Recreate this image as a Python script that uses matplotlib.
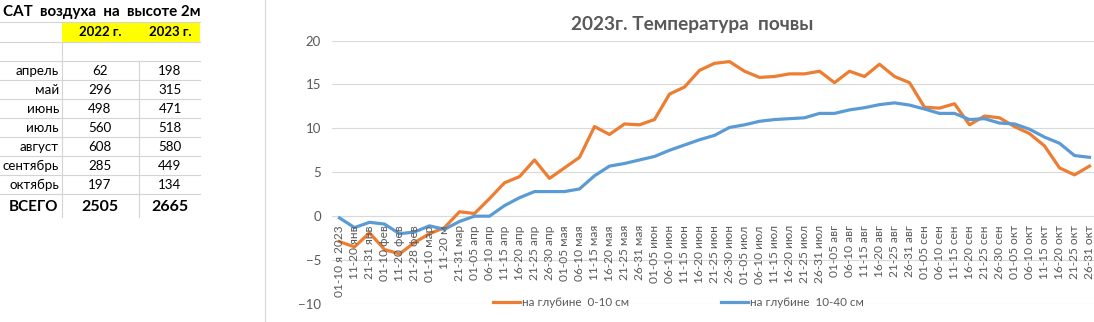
import matplotlib.pyplot as plt
from matplotlib.lines import Line2D
from matplotlib.patches import Rectangle

plt.rcParams['font.family'] = ['Lato', 'DejaVu Sans']

# table on the left
months = ['апрель', 'май', 'июнь', 'июль', 'август', 'сентябрь', 'октябрь']
sat_2022 = [62, 296, 498, 560, 608, 285, 197]
sat_2023 = [198, 315, 471, 518, 580, 449, 134]
total_2022 = 2505
total_2023 = 2665

# chart data
periods = ['01-10 я 2023', '11-20 янв', '21-31 янв', '01-10 фев', '11-20 фев', '21-28 фев',
           '01-10 мар', '11-20 м', '21-31 мар',
           '01-05 апр', '06-10 апр', '11-15 апр', '16-20 апр', '21-25 апр', '26-30 апр',
           '01-05 мая', '06-10 мая', '11-15 мая', '16-20 мая', '21-25 мая', '26-31 мая',
           '01-05 июн', '06-10 июн', '11-15 июн', '16-20 июн', '21-25 июн', '26-30 июн',
           '01-05 июл', '06-10 июл', '11-15 июл', '16-20 июл', '21-25 июл', '26-31 июл',
           '01-05 авг', '06-10 авг', '11-15 авг', '16-20 авг', '21-25 авг', '26-31 авг',
           '01-05 сен', '06-10 сен', '11-15 сен', '16-20 сен', '21-25 сен', '26-30 сен',
           '01-05 окт', '06-10 окт', '11-15 окт', '16-20 окт', '21-25 окт', '26-31 окт']
t_0_10 = [-2.9, -3.5, -1.9, -3.8, -4.3, -3.0, -2.0, -1.3, 0.5, 0.3,
          2.0, 3.8, 4.5, 6.4, 4.3, 5.5, 6.7, 10.2, 9.3, 10.5,
          10.4, 11.0, 13.9, 14.7, 16.6, 17.4, 17.6, 16.5, 15.8, 15.9,
          16.2, 16.2, 16.5, 15.2, 16.5, 15.9, 17.3, 15.9, 15.2, 12.4,
          12.3, 12.8, 10.4, 11.4, 11.2, 10.2, 9.4, 8.0, 5.5, 4.7, 5.7]
t_10_40 = [-0.2, -1.3, -0.7, -0.9, -2.0, -1.8, -1.1, -1.5, -0.6, 0.0,
           0.0, 1.2, 2.1, 2.8, 2.8, 2.8, 3.1, 4.6, 5.7, 6.0,
           6.4, 6.8, 7.5, 8.1, 8.7, 9.2, 10.1, 10.4, 10.8, 11.0,
           11.1, 11.2, 11.7, 11.7, 12.1, 12.35, 12.7, 12.9, 12.65, 12.2,
           11.7, 11.7, 11.0, 11.1, 10.6, 10.5, 9.9, 9.0, 8.3, 6.9, 6.7]

W, H = 1094, 322
fig = plt.figure(figsize=(W / 100, H / 100), dpi=100)


def fit(txt, size, target, vertical=False):
    # scale font so the text takes `target` pixels
    fig.canvas.draw()
    bb = txt.get_window_extent()
    cur = bb.height if vertical else bb.width
    txt.set_fontsize(size * target / cur)
    return size * target / cur


# background layer in pixel coordinates
bg = fig.add_axes([0, 0, 1, 1])
bg.set_xlim(0, W)
bg.set_ylim(H, 0)
bg.axis('off')

grid_c = '#d4d4d4'
bg.add_patch(Rectangle((62, 22), 138, 19.5, color='#ffff00', lw=0))
for y in [22, 41.5, 60.5]:
    bg.add_line(Line2D([0, 200], [y, y], color=grid_c, lw=0.8))
for k in range(7):
    y = 60.5 + 19 * (k + 1)
    bg.add_line(Line2D([0, 200], [y, y], color=grid_c, lw=0.8))
bg.add_line(Line2D([62, 62], [41.5, 217], color=grid_c, lw=0.8))
bg.add_line(Line2D([139, 139], [60.5, 217], color=grid_c, lw=0.8))
bg.add_line(Line2D([265, 265], [0, H], color='#d9d9d9', lw=0.8))

ttl = bg.text(3, 12, 'САТ  воздуха  на  высоте 2м', fontsize=11, fontweight='bold', va='center', ha='left')
bg.text(100, 31.5, '2022 г.', fontsize=9.5, fontweight='bold', va='center', ha='center')
bg.text(170, 31.5, '2023 г.', fontsize=9.5, fontweight='bold', va='center', ha='center')
for k, m in enumerate(months):
    y = 70.5 + 19 * k
    bg.text(59, y, m, fontsize=9.6, va='center', ha='right')
    bg.text(100, y, str(sat_2022[k]), fontsize=9.6, va='center', ha='center')
    bg.text(170, y, str(sat_2023[k]), fontsize=9.6, va='center', ha='center')
bg.text(33, 206.5, 'ВСЕГО', fontsize=11, fontweight='bold', va='center', ha='center')
bg.text(100, 206.5, str(total_2022), fontsize=11.5, fontweight='bold', va='center', ha='center')
bg.text(170, 206.5, str(total_2023), fontsize=11.5, fontweight='bold', va='center', ha='center')

ctitle = bg.text(692, 24, '2023г. Температура  почвы', fontsize=14, fontweight='bold',
                 color='#595959', va='center', ha='center')

fit(ttl, 11, 198)
fit(ctitle, 14, 245)

# chart
x0, x1 = 332, W
ytop, ybot = 40.5, 304
ax = fig.add_axes([x0 / W, (H - ybot) / H, (x1 - x0) / W, (ybot - ytop) / H])
ax.patch.set_alpha(0)
xs = list(range(len(periods)))
ax.plot(xs, t_0_10, color='#ED7D31', lw=2.3, label='на глубине  0-10 см', solid_joinstyle='round')
ax.plot(xs, t_10_40, color='#5B9BD5', lw=2.3, label='на глубине  10-40 см', solid_joinstyle='round')
ax.set_xlim(-0.5, -0.5 + (x1 - x0) / 15)
ax.set_ylim(-10, 20)
ax.set_yticks([-10, -5, 0, 5, 10, 15, 20])
ax.yaxis.grid(True, color='#d9d9d9', lw=0.8)
ax.set_axisbelow(True)
ax.set_xticks([])
for s in ax.spines.values():
    s.set_visible(False)
ax.tick_params(axis='y', length=0, pad=8, labelsize=9.5, labelcolor='#595959')

xl = []
for i, p in enumerate(periods):
    xl.append(ax.annotate(p, (i, 0), xytext=(0, -6.5), textcoords='offset points', rotation=90,
                          ha='center', va='top', fontsize=8.8, color='#595959'))
fs = fit(xl[0], 8.8, 72, vertical=True)
for t in xl[1:]:
    t.set_fontsize(fs)


def make_legend(size, gap_px):
    em = size * 100 / 72
    return ax.legend(loc='center left', bbox_to_anchor=((493 - x0) / (x1 - x0), 1.5 / (ybot - ytop)),
                     ncol=2, frameon=False, fontsize=size, handlelength=27 / em,
                     columnspacing=gap_px / em, handletextpad=2 / em,
                     labelcolor='#595959', borderpad=0, borderaxespad=0)


lf = 8.4
leg = make_legend(lf, 103)
fig.canvas.draw()
tw = leg.get_texts()[0].get_window_extent().width
leg.remove()
leg = make_legend(lf, max(228 - 29 - tw, 20))

fig.savefig('out.png', dpi=100)
